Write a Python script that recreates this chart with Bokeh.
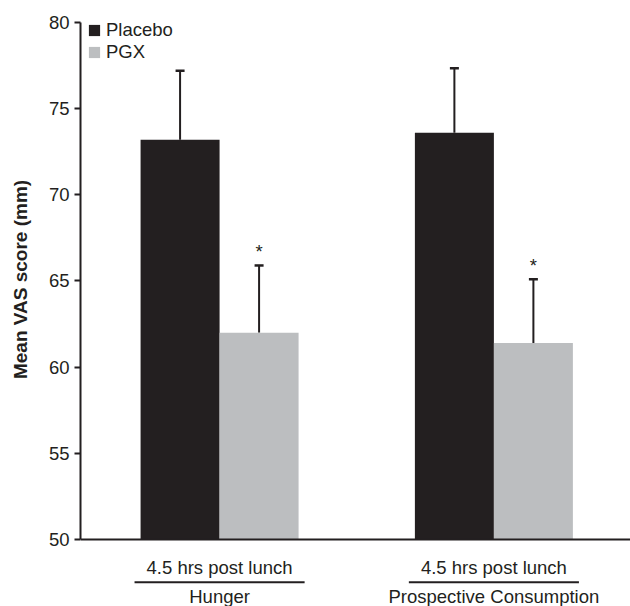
from bokeh.plotting import figure
from bokeh.models import (Range1d, ColumnDataSource, Whisker, TeeHead, Span, Legend,
                          LegendItem, LinearAxis, FixedTicker)
from bokeh.core.properties import value
from bokeh.embed import file_html
from bokeh.resources import INLINE

# ---- data ----
measures = ["Hunger", "Prospective Consumption"]
timepoint = "4.5 hrs post lunch"
treatments = ["Placebo", "PGX"]
placebo_mean = [73.2, 73.6]
placebo_err = [4.0, 3.75]
pgx_mean = [62.0, 61.4]
pgx_err = [3.9, 3.7]
pgx_significant = ["*", "*"]
y_ticks = [50, 55, 60, 65, 70, 75, 80]
y_title = "Mean VAS score (mm)"

INK = "#231f20"
GREY = "#bcbec0"
FONT = "Liberation Sans"
FS = "18.5px"

bar_w = 0.288
idx = list(range(len(measures)))
x_pl = [i - bar_w / 2 for i in idx]
x_pg = [i + bar_w / 2 for i in idx]

src_pl = ColumnDataSource(dict(x=x_pl, top=placebo_mean,
                               upper=[m + e for m, e in zip(placebo_mean, placebo_err)]))
src_pg = ColumnDataSource(dict(x=x_pg, top=pgx_mean,
                               upper=[m + e for m, e in zip(pgx_mean, pgx_err)],
                               star=pgx_significant))

y_base = y_ticks[0]
x0, x1 = -0.507, 1.498
p = figure(width=630, height=606, x_range=Range1d(x0, x1),
           y_range=Range1d(46.11, 80.696), output_backend="svg", toolbar_location=None,
           min_border_left=80, min_border_right=0, min_border_top=10, min_border_bottom=0,
           x_axis_location=None, y_axis_location=None)
p.outline_line_color = None
p.xgrid.visible = False
p.ygrid.visible = False

# leading no-break spaces lift the title so it is centred on the 50-80 span
yaxis = LinearAxis(bounds=(y_ticks[0], y_ticks[-1]), ticker=FixedTicker(ticks=y_ticks),
                   axis_label="\u00a0" * 11 + y_title)
yaxis.axis_line_width = 2
yaxis.axis_line_color = INK
yaxis.major_tick_line_color = INK
yaxis.major_tick_line_width = 2
yaxis.major_tick_out = 6
yaxis.major_tick_in = 0
yaxis.minor_tick_line_color = None
yaxis.major_label_text_font = FONT
yaxis.major_label_text_font_size = FS
yaxis.major_label_text_color = INK
yaxis.major_label_standoff = 5
yaxis.axis_label_text_font = FONT
yaxis.axis_label_text_font_size = "19px"
yaxis.axis_label_text_font_style = "bold"
yaxis.axis_label_text_color = INK
yaxis.axis_label_standoff = 15
p.add_layout(yaxis, "left")

r_pl = p.vbar(x="x", top="top", bottom=y_base, width=bar_w, source=src_pl,
              fill_color=INK, line_color=None)
r_pg = p.vbar(x="x", top="top", bottom=y_base, width=bar_w, source=src_pg,
              fill_color=GREY, line_color=None)

for src in (src_pl, src_pg):
    w = Whisker(source=src, base="x", lower="top", upper="upper", dimension="height",
                line_color=INK, line_width=2, lower_head=None,
                upper_head=TeeHead(size=9, line_color=INK, line_width=2.5))
    p.add_layout(w)

p.text(x="x", y="upper", text="star", source=src_pg, text_align="center",
       text_baseline="bottom", y_offset=-3, text_font=value(FONT), text_font_size=FS,
       text_color=INK)

p.add_layout(Span(location=y_base, dimension="width", line_color=INK, line_width=2))

# category labels below the axis
p.text(x=idx, y=[48.35] * len(idx), text=[timepoint] * len(idx), text_align="center",
       text_baseline="alphabetic", text_font=value(FONT), text_font_size=FS, text_color=INK)
p.segment(x0=[i - 0.31 for i in idx], x1=[i + 0.31 for i in idx],
          y0=[47.52] * len(idx), y1=[47.52] * len(idx), line_color=INK, line_width=2)
p.text(x=idx, y=[46.70] * len(idx), text=measures, text_align="center",
       text_baseline="alphabetic", text_font=value(FONT), text_font_size=FS, text_color=INK)

legend = Legend(items=[LegendItem(label=treatments[0], renderers=[r_pl]),
                       LegendItem(label=treatments[1], renderers=[r_pg])],
                location=(7, 543), orientation="vertical", glyph_width=14, glyph_height=14,
                label_height=14, label_standoff=5, spacing=0, padding=0, margin=0,
                border_line_color=None, background_fill_alpha=0,
                label_text_font=FONT, label_text_font_size=FS, label_text_color=INK)
p.add_layout(legend)

open("out.html", "w").write(file_html(p, INLINE))
